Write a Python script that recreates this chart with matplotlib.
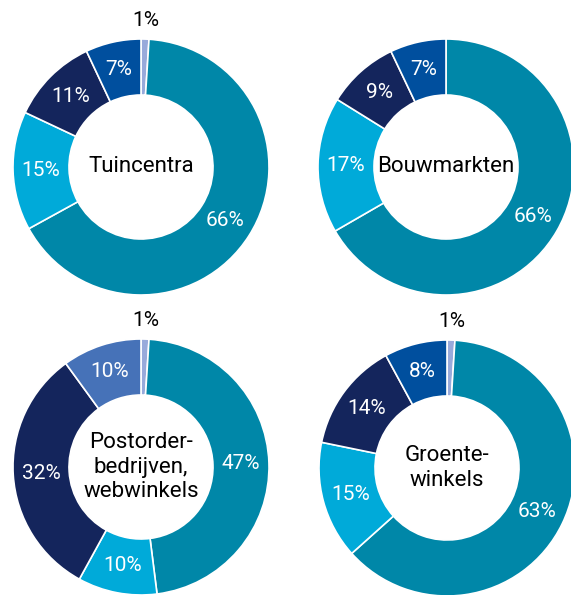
import numpy as np
import matplotlib
matplotlib.use('Agg')
import matplotlib.pyplot as plt

# chart data, slices clockwise starting at 12 o'clock
titles = ['Tuincentra', 'Bouwmarkten', 'Postorder-\nbedrijven,\nwebwinkels', 'Groente-\nwinkels']
tuincentra = [1, 66, 15, 11, 7]
bouwmarkten = [66, 17, 9, 7]
postorder = [1, 47, 10, 32, 10]
groente = [1, 63, 15, 14, 8]

TEAL = '#0087a8'
LIGHT = '#00aad9'
NAVY = '#14255c'
BLUE = '#004f9e'
MID = '#4672b8'
LAV = '#98aadb'

colors_tuin = [LAV, TEAL, LIGHT, NAVY, BLUE]
colors_bouw = [TEAL, LIGHT, NAVY, BLUE]
colors_post = [LAV, TEAL, LIGHT, NAVY, MID]
colors_groente = [LAV, TEAL, LIGHT, NAVY, BLUE]

W, H = 571, 595
R_OUT, R_IN = 128, 72
FONT = 'Roboto'


def draw_donut(ax, values, colors, title, cx, cy):
    cy = H - cy
    wedges, _ = ax.pie(values, colors=colors, startangle=90, counterclock=False,
                       radius=R_OUT, center=(cx, cy),
                       wedgeprops=dict(width=R_OUT - R_IN, edgecolor='white', linewidth=1.2))
    for w, v in zip(wedges, values):
        ang = np.deg2rad((w.theta1 + w.theta2) / 2)
        if v <= 2:
            r, col = 147, 'black'
        else:
            r, col = (R_OUT + R_IN) / 2, 'white'
        ax.text(cx + r * np.cos(ang), cy + r * np.sin(ang), f'{v}%',
                ha='center', va='center', color=col, fontsize=15,
                family=FONT)
    ax.text(cx, cy, title, ha='center', va='center', fontsize=16,
            family=FONT, color='black', linespacing=1.22)


def main():
    fig = plt.figure(figsize=(W / 100, H / 100), dpi=100)
    ax = fig.add_axes([0, 0, 1, 1])
    draw_donut(ax, tuincentra, colors_tuin, titles[0], 141, 167)
    draw_donut(ax, bouwmarkten, colors_bouw, titles[1], 446, 167)
    draw_donut(ax, postorder, colors_post, titles[2], 141, 467)
    draw_donut(ax, groente, colors_groente, titles[3], 447, 468)
    ax.set_xlim(0, W)
    ax.set_ylim(0, H)
    ax.set_aspect('equal')
    ax.axis('off')
    fig.savefig('out.png', dpi=100)


if __name__ == '__main__':
    main()
